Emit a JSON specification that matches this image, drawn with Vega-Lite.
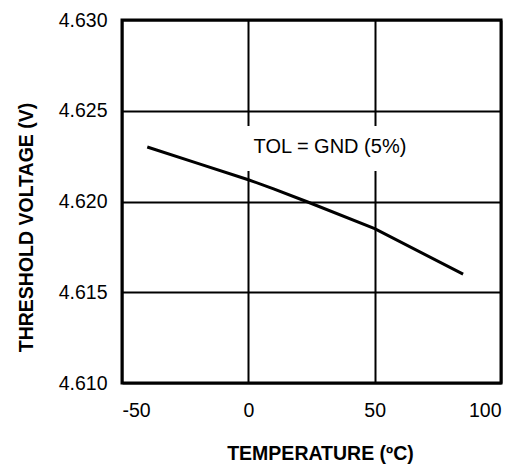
{
  "$schema": "https://vega.github.io/schema/vega-lite/v6.json",
  "width": 379,
  "height": 363,
  "autosize": {"type": "none"},
  "padding": {"left": 122, "top": 20, "right": 29, "bottom": 85},
  "background": "white",
  "config": {
    "font": "Liberation Sans",
    "view": {"stroke": "black", "strokeWidth": 3},
    "axis": {
      "grid": true,
      "gridColor": "black",
      "gridWidth": 2,
      "gridOpacity": 1,
      "domain": false,
      "ticks": false,
      "labelFont": "Liberation Sans",
      "labelFontSize": 19.5,
      "labelColor": "black",
      "titleFont": "Liberation Sans",
      "titleFontSize": 19.5,
      "titleFontWeight": "bold",
      "titleColor": "black"
    }
  },
  "layer": [
    {
      "data": {"values": [{"label": "TOL = GND (5%)"}]},
      "mark": {"type": "rect", "fill": "white", "stroke": null},
      "encoding": {
        "x": {"datum": -1.5, "type": "quantitative"},
        "x2": {"datum": 64},
        "y": {"datum": 4.62416, "type": "quantitative"},
        "y2": {"datum": 4.62168}
      }
    },
    {
      "data": {
        "values": [
          {"temperature": -40, "voltage": 4.6230},
          {"temperature": -20, "voltage": 4.6221},
          {"temperature": 0, "voltage": 4.6212},
          {"temperature": 10, "voltage": 4.6207},
          {"temperature": 23, "voltage": 4.6200},
          {"temperature": 50, "voltage": 4.6185},
          {"temperature": 85, "voltage": 4.6160}
        ]
      },
      "mark": {"type": "line", "color": "black", "strokeWidth": 3},
      "encoding": {
        "x": {
          "field": "temperature",
          "type": "quantitative",
          "scale": {"domain": [-50, 100], "nice": false, "zero": false},
          "axis": {
            "values": [-50, 0, 50, 100],
            "labelExpr": "(datum.value < 0 ? '-' : '') + abs(datum.value)",
            "labelPadding": 18,
            "title": "TEMPERATURE (ºC)",
            "titleX": 198,
            "titleY": 70,
            "titleBaseline": "middle"
          }
        },
        "y": {
          "field": "voltage",
          "type": "quantitative",
          "scale": {"domain": [4.61, 4.63], "nice": false, "zero": false},
          "axis": {
            "values": [4.61, 4.615, 4.62, 4.625, 4.63],
            "format": ".3f",
            "labelPadding": 15,
            "title": "THRESHOLD VOLTAGE (V)",
            "titleX": -96,
            "titleY": 207,
            "titleBaseline": "middle",
            "titleAngle": -90
          }
        }
      }
    },
    {
      "data": {"values": [{"label": "TOL = GND (5%)"}]},
      "mark": {"type": "text", "fontSize": 20, "color": "black", "align": "center", "baseline": "middle"},
      "encoding": {
        "x": {"datum": 32.3, "type": "quantitative"},
        "y": {"datum": 4.623, "type": "quantitative"},
        "text": {"field": "label"}
      }
    }
  ]
}
